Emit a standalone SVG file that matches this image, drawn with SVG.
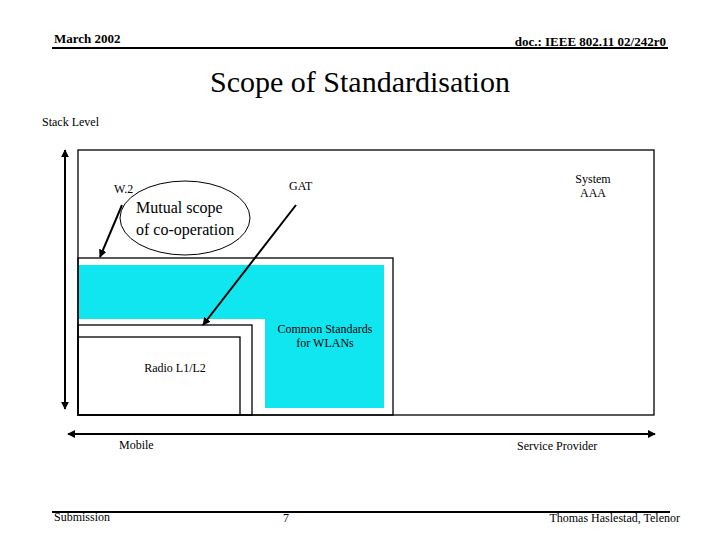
<svg xmlns="http://www.w3.org/2000/svg" width="720" height="540" viewBox="0 0 720 540" font-family="'Liberation Serif', 'Times New Roman', serif">
<style>
text{font-family:"Liberation Serif",serif;fill:#000}
.s{font-size:12px}
.box{fill:none;stroke:#000;stroke-width:1.3}
.ln{stroke:#000;stroke-width:2;fill:none}
.cy{fill:#10E6F0}
</style>
<defs>
<marker id="ah" viewBox="0 0 10 10" refX="9" refY="5" markerWidth="4" markerHeight="4" orient="auto-start-reverse" markerUnits="strokeWidth">
<path d="M0,0 L10,5 L0,10 z" fill="#000"/>
</marker>
</defs>
<rect width="720" height="540" fill="#fff"/>
<g id="header">
<text x="54" y="43" font-size="13" font-weight="bold">March 2002</text>
<text x="666" y="46" font-size="13" font-weight="bold" text-anchor="end">doc.: IEEE 802.11 02/242r0</text>
<line x1="52" y1="48" x2="668" y2="48" stroke="#000" stroke-width="2"/>
</g>
<text id="title" x="360" y="92" font-size="30" text-anchor="middle">Scope of Standardisation</text>
<text id="stack" x="42" y="126" class="s">Stack Level</text>
<g id="outer"><rect x="78" y="150" width="576" height="265" class="box"/></g>
<g id="container"><rect x="78" y="258" width="315" height="157" class="box"/></g>
<g id="common">
<path class="cy" d="M79,265 H384 V408 H265 V319 H79 Z"/>
<text x="325" y="333" class="s" text-anchor="middle">Common Standards</text>
<text x="325" y="347" class="s" text-anchor="middle">for WLANs</text>
</g>
<g id="box2"><rect x="78" y="325" width="174" height="90" class="box"/></g>
<g id="radio"><rect x="78" y="337" width="162" height="78" class="box"/>
<text x="175" y="372" class="s" text-anchor="middle">Radio L1/L2</text></g>
<g id="mutual">
<ellipse cx="185" cy="218" rx="65" ry="37" fill="none" stroke="#000" stroke-width="1"/>
<text x="136" y="213" font-size="16">Mutual scope</text>
<text x="136" y="235" font-size="16">of co-operation</text>
</g>
<text id="w2" x="114" y="193" class="s">W.2</text>
<text id="gat" x="289" y="190" class="s">GAT</text>
<g id="aaa">
<text x="593" y="183" class="s" text-anchor="middle">System</text>
<text x="593" y="197" class="s" text-anchor="middle">AAA</text>
</g>
<g id="connectors">
<line x1="65" y1="409" x2="65" y2="150" class="ln" marker-start="url(#ah)" marker-end="url(#ah)"/>
<line x1="68" y1="434" x2="655" y2="434" class="ln" marker-start="url(#ah)" marker-end="url(#ah)"/>
<line x1="122" y1="205" x2="100" y2="257" class="ln" marker-end="url(#ah)"/>
<line x1="296" y1="205" x2="203" y2="325" class="ln" marker-end="url(#ah)"/>
</g>
<text id="mobile" x="119" y="449" class="s">Mobile</text>
<text id="sp" x="517" y="450" class="s">Service Provider</text>
<g id="footer">
<line x1="52" y1="512" x2="670" y2="512" stroke="#000" stroke-width="2"/>
<text x="54" y="521" class="s">Submission</text>
<text x="283" y="522" class="s">7</text>
<text x="680" y="522" class="s" text-anchor="end">Thomas Haslestad, Telenor</text>
</g>
</svg>
